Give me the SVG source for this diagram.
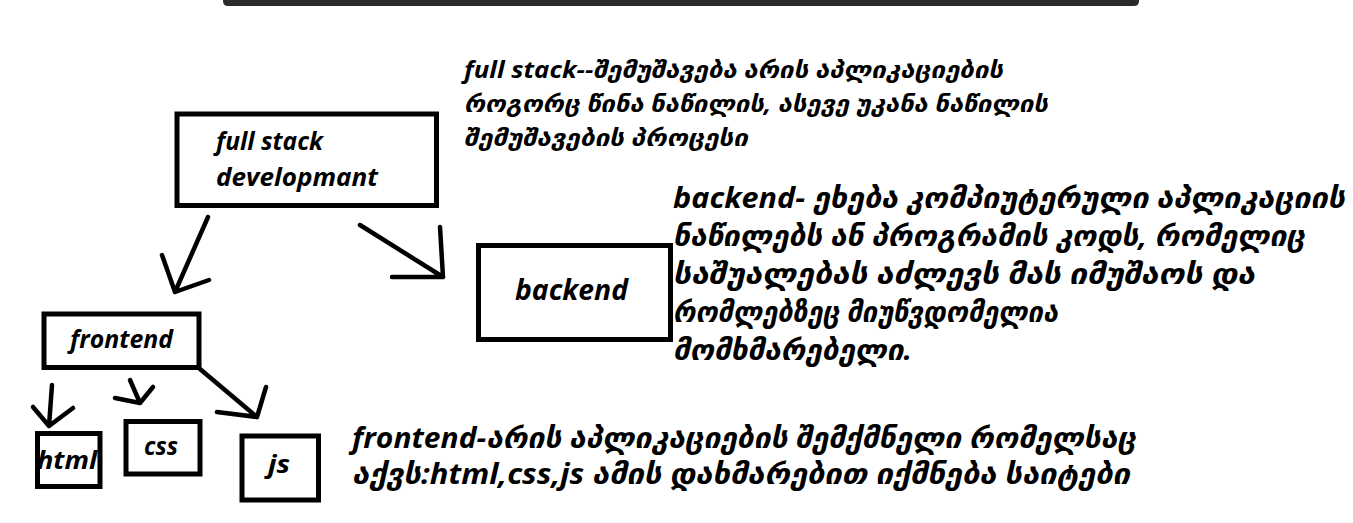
<svg xmlns="http://www.w3.org/2000/svg" width="1353" height="523" viewBox="0 0 1353 523">
<style>
.box{fill:none;stroke:#000;stroke-width:5}
.ln{fill:none;stroke:#000;stroke-width:4.5;stroke-linecap:round;stroke-linejoin:round}
text{font-family:"Open Sans","DejaVu Sans",sans-serif;font-weight:bold;font-style:italic;fill:#000}
.lbl{font-size:25px}
.t1{font-size:23.5px}
.t2{font-size:28.5px}
</style>
<rect width="1353" height="523" fill="#fff"/>
<path d="M223,0 H1139 V1 Q1139,6 1134,6 H228 Q223,6 223,1 Z" fill="#2b2b2b"/>

<g id="fullstack">
<rect class="box" x="177" y="114" width="259.5" height="91.5"/>
<text class="lbl" x="216" y="150" textLength="107" lengthAdjust="spacingAndGlyphs">full stack</text>
<text class="lbl" x="216" y="186" textLength="162" lengthAdjust="spacingAndGlyphs">developmant</text>
</g>
<g id="backend">
<rect class="box" x="478.5" y="245.5" width="192" height="94"/>
<text x="515" y="300" font-size="29" textLength="113" lengthAdjust="spacingAndGlyphs">backend</text>
</g>
<g id="frontend">
<rect class="box" x="44" y="314" width="155" height="53.5"/>
<text class="lbl" x="70" y="348" textLength="103" lengthAdjust="spacingAndGlyphs">frontend</text>
</g>
<g id="html">
<rect class="box" x="37.5" y="433.5" width="62.5" height="53"/>
<text class="lbl" x="37" y="469" textLength="60" lengthAdjust="spacingAndGlyphs">html</text>
</g>
<g id="css">
<rect class="box" x="126" y="421.5" width="74" height="52.5"/>
<text class="lbl" x="144" y="455" textLength="34" lengthAdjust="spacingAndGlyphs">css</text>
</g>
<g id="js">
<rect class="box" x="242" y="436" width="76.5" height="64"/>
<text class="lbl" x="268" y="473" textLength="22" lengthAdjust="spacingAndGlyphs">js</text>
</g>

<g id="connectors">
<path class="ln" d="M208,217 L175,292 M162,255 L175,292 L209,280"/>
<path class="ln" d="M360,225 L443,277 M440,227 L443,277 L392,277"/>
<path class="ln" d="M52,385 L49,426 M33,407 L49,426 L73,408"/>
<path class="ln" d="M130,380 L140,403 M115,398 L140,403 L153,387"/>
<path class="ln" d="M200,369 L257,417 M266,387 L257,417 L217,412"/>
</g>

<g id="note-fullstack">
<text class="t1" x="464" y="78" textLength="539" lengthAdjust="spacingAndGlyphs">full stack--შემუშავება არის აპლიკაციების</text>
<text class="t1" x="464" y="112" textLength="584" lengthAdjust="spacingAndGlyphs">როგორც წინა ნაწილის, ასევე უკანა ნაწილის</text>
<text class="t1" x="464" y="146" textLength="284" lengthAdjust="spacingAndGlyphs">შემუშავების პროცესი</text>
</g>
<g id="note-backend">
<text class="t2" x="673" y="208" textLength="672" lengthAdjust="spacingAndGlyphs">backend- ეხება კომპიუტერული აპლიკაციის</text>
<text class="t2" x="673" y="246" textLength="632" lengthAdjust="spacingAndGlyphs">ნაწილებს ან პროგრამის კოდს, რომელიც</text>
<text class="t2" x="673" y="284" textLength="582" lengthAdjust="spacingAndGlyphs">საშუალებას აძლევს მას იმუშაოს და</text>
<text class="t2" x="673" y="322" textLength="385" lengthAdjust="spacingAndGlyphs">რომლებზეც მიუწვდომელია</text>
<text class="t2" x="673" y="360" textLength="239" lengthAdjust="spacingAndGlyphs">მომხმარებელი.</text>
</g>
<g id="note-frontend">
<text class="t2" x="352" y="448" textLength="784" lengthAdjust="spacingAndGlyphs">frontend-არის აპლიკაციების შემქმნელი რომელსაც</text>
<text class="t2" x="352" y="484" textLength="778" lengthAdjust="spacingAndGlyphs">აქვს:html,css,js ამის დახმარებით იქმნება საიტები</text>
</g>
</svg>
